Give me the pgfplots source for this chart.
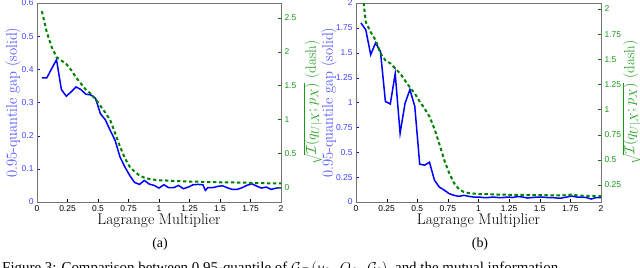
\documentclass[border=0pt]{standalone}
\usepackage{fontspec}
\usepackage{pgfplots}
\pgfplotsset{compat=1.18}
\setsansfont{Liberation Sans}
\newfontfamily\timesfont{Liberation Serif}
\definecolor{mblue}{rgb}{0,0,1}
\definecolor{mgreen}{rgb}{0,0.5,0}
\definecolor{tblue}{rgb}{0.25,0.25,1}
\definecolor{tgreen}{rgb}{0.1,0.6,0.1}
\definecolor{framegray}{rgb}{0.45,0.45,0.45}
\pgfplotsset{
  common/.style={
    scale only axis, width=244bp, height=199bp,
    xmin=0, xmax=2,
    tick align=inside, major tick length=3bp,
    /pgf/number format/assume math mode=true,
    tick label style={font=\sffamily\fontsize{8.5}{9}\selectfont},
  },
  leftax/.style={common,
    axis line style={framegray},
    xtick={0,0.25,0.5,0.75,1,1.25,1.5,1.75,2},
    xticklabels={0,0.25,0.5,0.75,1,1.25,1.5,1.75,2},
    xtick pos=bottom, ytick pos=left,
    xtick style={black},
    ytick style={mblue},
    yticklabel style={text=tblue},
    xlabel={Lagrange Multiplier},
    xlabel style={at={(axis description cs:0.5,-0.094)}, anchor=center, font=\fontsize{15.5}{17}\selectfont},
    ylabel={0.95-quantile gap (solid)},
    ylabel style={text=tblue, anchor=center, rotate=0, font=\fontsize{15.5}{17}\selectfont},
  },
  rightax/.style={common,
    axis x line=none, axis y line*=right,
    tick align=inside,
    y axis line style={framegray},
    ytick style={mgreen},
    yticklabel style={text=tgreen},
    ylabel={$\sqrt{\mathcal{I}(q_{U|X};p_X)}$ (dash)},
    ylabel style={text=tgreen, anchor=center, rotate=0, font=\fontsize{15}{17}\selectfont},
  },
}
\begin{document}
\begin{tikzpicture}
\useasboundingbox (0,0) rectangle (640bp,-268bp);
\clip (0,0) rectangle (640bp,-268bp);
% ---------------- (a)
\begin{axis}[leftax, at={(37bp,-3bp)}, anchor=north west,
  ymin=0, ymax=0.6, ytick={0,0.1,0.2,0.3,0.4,0.5,0.6},
  ylabel style={at={(axis description cs:-0.098,0.5)}}]
\addplot[mblue, line width=1.5bp] coordinates {
(0.04,0.374)(0.08,0.374)(0.12,0.402)(0.16,0.429)(0.20,0.339)(0.24,0.319)
(0.28,0.332)(0.32,0.347)(0.36,0.339)(0.40,0.325)(0.44,0.323)(0.48,0.312)
(0.52,0.266)(0.56,0.248)(0.60,0.216)(0.64,0.186)(0.68,0.136)(0.72,0.106)
(0.76,0.080)(0.80,0.059)(0.84,0.053)(0.88,0.065)(0.92,0.054)(0.96,0.050)
(1.00,0.042)(1.04,0.052)(1.08,0.043)(1.12,0.043)(1.16,0.050)(1.20,0.040)
(1.24,0.045)(1.28,0.052)(1.32,0.053)(1.36,0.052)(1.38,0.035)(1.40,0.043)
(1.44,0.043)(1.48,0.047)(1.52,0.049)(1.56,0.043)(1.60,0.038)(1.64,0.038)
(1.68,0.043)(1.72,0.050)(1.76,0.055)(1.80,0.048)(1.84,0.042)(1.88,0.045)
(1.92,0.038)(1.96,0.042)(2.00,0.043)};
\end{axis}
\begin{axis}[rightax, at={(37bp,-3bp)}, anchor=north west,
  ymin=-0.22, ymax=2.72, ytick={0,0.5,1,1.5,2,2.5},
  ylabel style={at={(axis description cs:1.13,0.5)}}]
\addplot[mgreen, line width=2bp, dash pattern=on 3.3bp off 2.7bp] coordinates {
(0.04,2.60)(0.08,2.29)(0.12,2.07)(0.16,1.92)(0.20,1.87)(0.24,1.82)
(0.28,1.73)(0.32,1.62)(0.36,1.53)(0.40,1.44)(0.44,1.38)(0.48,1.30)
(0.52,1.20)(0.56,1.10)(0.60,0.99)(0.64,0.80)(0.68,0.60)(0.72,0.43)
(0.76,0.30)(0.80,0.23)(0.84,0.17)(0.88,0.14)(0.92,0.12)(0.96,0.11)
(1.00,0.10)(1.04,0.10)(1.08,0.095)(1.12,0.09)(1.16,0.09)(1.20,0.085)
(1.24,0.083)(1.28,0.08)(1.32,0.08)(1.36,0.078)(1.40,0.075)(1.44,0.073)
(1.48,0.072)(1.52,0.07)(1.56,0.07)(1.60,0.07)(1.64,0.068)(1.68,0.066)
(1.72,0.065)(1.76,0.063)(1.80,0.06)(1.84,0.058)(1.88,0.057)(1.92,0.056)
(1.96,0.055)(2.00,0.055)};
\end{axis}
% ---------------- (b)
\begin{axis}[leftax, at={(356bp,-3bp)}, anchor=north west, width=245bp,
  ymin=0, ymax=2, ytick={0,0.25,0.5,0.75,1,1.25,1.5,1.75,2},
  yticklabels={0,0.25,0.5,0.75,1,1.25,1.5,1.75,2},
  ylabel style={at={(axis description cs:-0.110,0.5)}}]
\addplot[mblue, line width=1.5bp] coordinates {
(0.04,1.80)(0.08,1.73)(0.12,1.48)(0.16,1.60)(0.20,1.51)(0.24,1.01)
(0.28,0.985)(0.32,1.29)(0.36,0.69)(0.40,0.99)(0.44,1.13)(0.48,0.96)
(0.52,0.38)(0.56,0.37)(0.60,0.40)(0.64,0.22)(0.68,0.15)(0.72,0.12)
(0.76,0.084)(0.80,0.067)(0.84,0.057)(0.88,0.067)(0.92,0.057)(0.96,0.05)
(1.00,0.05)(1.04,0.045)(1.08,0.045)(1.12,0.05)(1.16,0.045)(1.20,0.045)
(1.24,0.05)(1.28,0.045)(1.32,0.055)(1.36,0.05)(1.40,0.04)(1.44,0.045)
(1.48,0.05)(1.52,0.05)(1.56,0.045)(1.60,0.045)(1.64,0.04)(1.68,0.04)
(1.72,0.05)(1.76,0.06)(1.80,0.05)(1.84,0.05)(1.88,0.045)(1.92,0.03)
(1.96,0.045)(2.00,0.045)};
\end{axis}
\begin{axis}[rightax, at={(356bp,-3bp)}, anchor=north west, width=245bp,
  ymin=0.081, ymax=2.06, ytick={0.25,0.5,0.75,1,1.25,1.5,1.75,2},
  yticklabels={0.25,0.5,0.75,1,1.25,1.5,1.75,2},
  ylabel style={at={(axis description cs:1.124,0.5)}}]
\addplot[mgreen, line width=2bp, dash pattern=on 3.3bp off 2.7bp] coordinates {
(0.04,2.30)(0.08,1.87)(0.12,1.77)(0.16,1.69)(0.20,1.56)(0.24,1.49)
(0.28,1.46)(0.32,1.41)(0.36,1.36)(0.40,1.29)(0.44,1.22)(0.48,1.16)
(0.52,1.08)(0.56,1.01)(0.60,0.93)(0.64,0.81)(0.68,0.66)(0.72,0.50)
(0.76,0.37)(0.80,0.27)(0.84,0.21)(0.88,0.18)(0.92,0.17)(0.96,0.165)
(1.00,0.16)(1.04,0.16)(1.08,0.158)(1.12,0.157)(1.16,0.155)(1.20,0.155)
(1.24,0.153)(1.28,0.153)(1.32,0.152)(1.36,0.152)(1.40,0.15)(1.44,0.15)
(1.48,0.15)(1.52,0.15)(1.56,0.148)(1.60,0.147)(1.64,0.146)(1.68,0.146)
(1.72,0.15)(1.76,0.155)(1.80,0.148)(1.84,0.145)(1.88,0.143)(1.92,0.142)
(1.96,0.141)(2.00,0.14)};
\end{axis}
% ---------------- sub-captions and figure caption
\node[font=\timesfont\fontsize{14}{16}\selectfont] at (160bp,-244bp) {(a)};
\node[font=\timesfont\fontsize{14}{16}\selectfont] at (480bp,-244bp) {(b)};
\node[anchor=north west, inner sep=0pt, font=\timesfont\fontsize{15}{17}\selectfont]
  at (2bp,-262bp) {Figure 3: Comparison between 0.95-quantile of $\mathcal{G}_{\mathcal{F}}\,(\nu_{\theta},\; Q_{\theta},\; \mathcal{G}_{\theta})$\; and the mutual information};
\end{tikzpicture}
\end{document}
